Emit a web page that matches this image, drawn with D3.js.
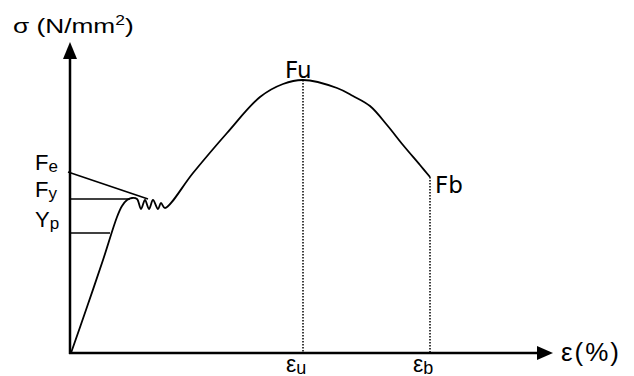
<!DOCTYPE html>
<html>
<head>
<meta charset="utf-8">
<script src="https://cdn.jsdelivr.net/npm/d3@7"></script>
<style>
  html, body { margin: 0; padding: 0; background: #fff; }
  svg { display: block; font-family: "Liberation Sans", Arial, sans-serif; }
</style>
</head>
<body>
<div id="chart"></div>
<script>
// stress-strain curve (strain in %, stress in N/mm2)
const strain = [0.05, 0.85, 1.65, 2.35, 2.6, 2.85, 3.1, 3.35, 3.55, 3.75, 3.95, 4.15, 4.4, 4.55, 4.75,
                6.15, 7.85, 9.5, 10.65, 11.65, 13.35, 14.15, 15.0, 15.85, 16.65, 17.5, 18.0];
const stress = [0, 92, 186, 272, 294, 306, 310, 308, 288, 306, 288, 306, 288, 300, 290,
                360, 440, 512, 538, 546, 530, 514, 494, 456, 416, 376, 352];

// reference levels on the stress axis
const levels = [
  { name: "F", sub: "e", y0: 362, y1: 308, x0: -0.1, x1: 3.9 },
  { name: "F", sub: "y", y0: 308, y1: 308, x0: 0, x1: 3.0 },
  { name: "Y", sub: "p", y0: 240, y1: 240, x0: 0, x1: 2.0 }
];
const levelLabelDy = [-2, -2, -6];

// ultimate and breaking points
const marks = [
  { name: "Fu", strain: 11.65, stress: 546, sub: "u" },
  { name: "Fb", strain: 18.0, stress: 352, sub: "b" }
];

const W = 634, H = 376;
const x = d3.scaleLinear().domain([0, 24]).range([70, 550]);
const y = d3.scaleLinear().domain([0, 600]).range([353, 53]);
const xMax = 24.15, yMax = 622;

const svg = d3.select("#chart").append("svg").attr("width", W).attr("height", H);

// axes with arrowheads
svg.append("line").attr("x1", x(0)).attr("y1", y(0) + 1).attr("x2", x(0)).attr("y2", y(yMax) + 10)
  .attr("stroke", "#000").attr("stroke-width", 2.5);
svg.append("line").attr("x1", x(0) - 1).attr("y1", y(0)).attr("x2", x(xMax) - 10).attr("y2", y(0))
  .attr("stroke", "#000").attr("stroke-width", 2.5);
svg.append("path")
  .attr("d", `M${x(0)},${y(yMax)} L${x(0) - 7},${y(yMax) + 17} L${x(0) + 7},${y(yMax) + 17} Z`)
  .attr("fill", "#000");
svg.append("path")
  .attr("d", `M${x(xMax)},${y(0)} L${x(xMax) - 16},${y(0) - 7} L${x(xMax) - 16},${y(0) + 7} Z`)
  .attr("fill", "#000");

// axis titles (reference lettering is a bit wide, so stretch it horizontally)
const yTitle = svg.append("text").attr("transform", "translate(13,33) scale(1.25,1)").attr("font-size", 21);
yTitle.append("tspan").text("σ (N/mm");
yTitle.append("tspan").attr("dy", -8).attr("font-size", 14).text("2");
yTitle.append("tspan").attr("dy", 8).text(")");

svg.append("text").attr("x", 561).attr("y", 361).attr("font-size", 26)
  .attr("letter-spacing", 2).text("ε(%)");

// dotted verticals at Fu and Fb
svg.selectAll(".drop").data(marks).join("line")
  .attr("x1", d => x(d.strain)).attr("x2", d => x(d.strain))
  .attr("y1", d => y(d.stress)).attr("y2", y(0))
  .attr("stroke", "#000").attr("stroke-width", 1.5).attr("stroke-dasharray", "1.5,1.5");

// level lines
svg.selectAll(".level").data(levels).join("line")
  .attr("x1", d => x(d.x0)).attr("y1", d => y(d.y0))
  .attr("x2", d => x(d.x1)).attr("y2", d => y(d.y1))
  .attr("stroke", "#000").attr("stroke-width", 1.6);

// curve
const pts = strain.map((s, i) => [s, stress[i]]);
svg.append("path").datum(pts)
  .attr("d", d3.line().x(d => x(d[0])).y(d => y(d[1])).curve(d3.curveCatmullRom.alpha(0.5)))
  .attr("fill", "none").attr("stroke", "#000").attr("stroke-width", 1.8)
  .attr("stroke-linejoin", "round");

// level labels
levels.forEach((d, i) => {
  const t = svg.append("text").attr("x", 35).attr("y", y(d.y0) + levelLabelDy[i]).attr("font-size", 22);
  t.append("tspan").text(d.name);
  t.append("tspan").text(d.sub).attr("font-size", 17).attr("dy", 2);
});

// Fu / Fb labels
svg.append("text").attr("x", x(marks[0].strain) - 18).attr("y", y(marks[0].stress) - 2)
  .attr("font-family", "DejaVu Sans").attr("font-size", 23).text(marks[0].name);
svg.append("text").attr("x", x(marks[1].strain) + 5).attr("y", y(marks[1].stress) + 16)
  .attr("font-family", "DejaVu Sans").attr("font-size", 23).text(marks[1].name);

// strain labels under the axis
marks.forEach(d => {
  const t = svg.append("text").attr("x", x(d.strain) - 17).attr("y", 372).attr("font-size", 23);
  t.append("tspan").text("ε");
  t.append("tspan").text(d.sub).attr("font-size", 18).attr("dy", 2);
});
</script>
</body>
</html>
